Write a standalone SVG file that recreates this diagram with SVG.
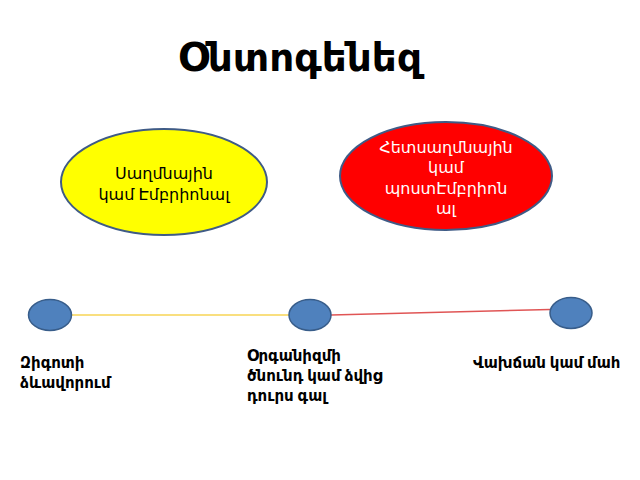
<svg xmlns="http://www.w3.org/2000/svg" width="640" height="480" viewBox="0 0 640 480">
<style>
.bg{fill:#ffffff}
.title{font-family:"Noto Sans","DejaVu Sans",sans-serif;font-weight:bold;font-size:39px;fill:#000}
.big{stroke:#3f5b86;stroke-width:2}
.dot{fill:#4f81bd;stroke:#385d8a;stroke-width:1.5}
.t{font-family:"Noto Sans","DejaVu Sans",sans-serif;font-size:16px;text-anchor:middle}
.lbl{font-family:"Noto Sans","DejaVu Sans",sans-serif;font-size:15px;font-weight:bold;fill:#000}
</style>
<rect class="bg" x="0" y="0" width="640" height="480"/>
<text class="title" x="300" y="71" text-anchor="middle">Օնտոգենեզ</text>
<g id="connectors">
<line x1="72" y1="315" x2="289" y2="315" stroke="#f7d455" stroke-width="1.5"/>
<line x1="331" y1="315" x2="550" y2="309.5" stroke="#e05555" stroke-width="1.5"/>
</g>
<g id="embryonic">
<ellipse class="big" cx="164" cy="182" rx="103" ry="53" fill="#ffff00"/>
<text class="t" fill="#000"><tspan x="164" y="179">Սաղմնային</tspan><tspan x="164" y="199.5">կամ Էմբրիոնալ</tspan></text>
</g>
<g id="postembryonic">
<ellipse class="big" cx="446" cy="176" rx="106" ry="54" fill="#ff0000"/>
<text class="t" fill="#ffffff"><tspan x="446" y="152.5">Հետսաղմնային</tspan><tspan x="446" y="173">կամ</tspan><tspan x="446" y="193.5">պոստԷմբրիոն</tspan><tspan x="446" y="214">ալ</tspan></text>
</g>
<g id="zygote">
<ellipse class="dot" cx="50" cy="315" rx="21.5" ry="15.5"/>
<text class="lbl"><tspan x="20" y="368">Զիգոտի</tspan><tspan x="20" y="388">ձևավորում</tspan></text>
</g>
<g id="birth">
<ellipse class="dot" cx="310" cy="315" rx="21" ry="15.5"/>
<text class="lbl"><tspan x="247" y="361">Օրգանիզմի</tspan><tspan x="247" y="381">ծնունդ կամ ձվից</tspan><tspan x="247" y="401">դուրս գալ</tspan></text>
</g>
<g id="death">
<ellipse class="dot" cx="571" cy="313" rx="21" ry="15.5"/>
<text class="lbl" x="473" y="368">Վախճան կամ մահ</text>
</g>
</svg>
